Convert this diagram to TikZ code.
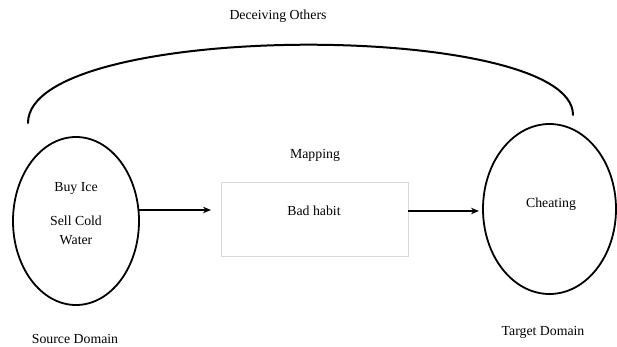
\documentclass[tikz,border=0pt]{standalone}
\usepackage{fontspec}
\newfontfamily\diagfont{Liberation Serif}
\usetikzlibrary{shapes.geometric,arrows.meta}
\begin{document}
\begin{tikzpicture}[x=1pt,y=-1pt,
  domainshape/.style={ellipse,draw,line width=1.8pt,inner sep=0pt},
  txt/.style={font=\diagfont\fontsize{13.8}{16}\selectfont,inner sep=0pt},
  habitbox/.style={draw=black!15,line width=0.8pt,inner sep=0pt},
  maparrow/.style={line width=1.2pt,-{Stealth[length=8pt,width=6.5pt]}},
  bridge/.style={line width=2pt,line cap=round}]
  \useasboundingbox (0,0) rectangle (617,347);

  % the two domains and the mapping box
  \node[domainshape,minimum width=126pt,minimum height=168pt] (src) at (76,221) {};
  \node[domainshape,minimum width=133pt,minimum height=170pt] (tgt) at (549.5,209) {};
  \node[habitbox,minimum width=187pt,minimum height=74pt] (bad) at (314.5,219) {};

  % texts
  \node[txt] (dec) at (278,16) {Deceiving Others};
  \node[txt] (map) at (315,155) {Mapping};
  \node[txt] (buy) at (76,188) {Buy Ice};
  \node[txt] (sell) at (76,221) {Sell Cold};
  \node[txt] (water) at (76,240) {Water};
  \node[txt] (habit) at (314,211) {Bad habit};
  \node[txt] (cheat) at (551,204) {Cheating};
  \node[txt] (srcname) at (75,339) {Source Domain};
  \node[txt] (tgtname) at (543,332) {Target Domain};

  % mapping arrows
  \coordinate (a1s) at (138.5,210);
  \coordinate (a1e) at (211,210);
  \coordinate (a2s) at (408,211);
  \coordinate (a2e) at (479,211);
  \draw[maparrow] (a1s) -- (a1e);
  \draw[maparrow] (a2s) -- (a2e);

  % curve joining the domains
  \coordinate (arcL) at (28,123);
  \coordinate (arcR) at (573,115);
  \draw[bridge] (arcL) .. controls (28,20) and (573,20) .. (arcR);
\end{tikzpicture}
\end{document}
